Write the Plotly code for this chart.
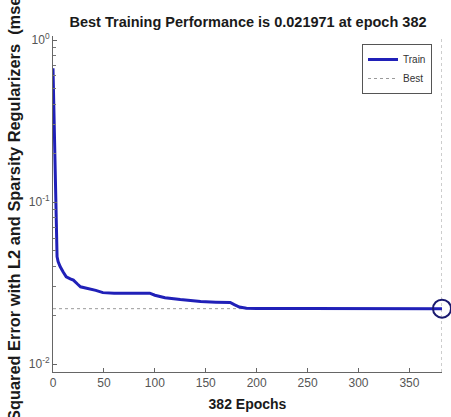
import plotly.graph_objects as go

# ---- data ----
epochs = [0, 1, 2, 3, 4, 5, 7, 10, 13, 17, 20, 24, 27, 32, 36, 42, 49, 60, 80, 95,
          100, 110, 125, 145, 160, 174, 178, 183, 190, 200, 250, 300, 350, 382]
train_perf = [0.67, 0.33, 0.13, 0.060, 0.046, 0.043, 0.040, 0.037, 0.0346, 0.0336,
              0.0330, 0.0312, 0.0300, 0.0295, 0.0292, 0.0285, 0.0276, 0.0274, 0.0274, 0.0274,
              0.0266, 0.0257, 0.0250, 0.0243, 0.0241, 0.0240, 0.0233, 0.0225, 0.0221,
              0.02200, 0.021990, 0.021980, 0.021975, 0.021971]
best_epoch = 382
best_perf = 0.021971
n_epochs = 382
ytick_vals = [0.01, 0.1, 1]
ytick_text = ["10<sup>-2</sup>", "10<sup>-1</sup>", "10<sup>0</sup>"]
xtick_vals = [0, 50, 100, 150, 200, 250, 300, 350]

title_text = f"Best Training Performance is {best_perf} at epoch {best_epoch}"
ylabel_text = "Mean Squared Error with L2 and Sparsity Regularizers  (mse)"
xlabel_text = f"{n_epochs} Epochs"

ymin_log, ymax_log = -2.049, 0.025

FONT = "Liberation Sans, Arial, sans-serif"
L, R, T, B = 53, 9, 36, 45
PW, PH = 451 - L - R, 417 - T - B

fig = go.Figure()

# best horizontal dotted line
fig.add_trace(go.Scatter(
    x=[0, best_epoch], y=[best_perf, best_perf], mode="lines",
    line=dict(color="#9a9a9a", width=1, dash="dot"), name="Best", showlegend=False))
# best vertical dotted line
fig.add_trace(go.Scatter(
    x=[best_epoch, best_epoch], y=[10 ** ymin_log, 10 ** ymax_log], mode="lines",
    line=dict(color="#9a9a9a", width=1, dash="dot"), name="Best", showlegend=False,
    cliponaxis=False))
# train curve
fig.add_trace(go.Scatter(
    x=epochs, y=train_perf, mode="lines",
    line=dict(color="#2020b8", width=3), name="Train"))
# legend proxy for Best
fig.add_trace(go.Scatter(
    x=[None], y=[None], mode="lines",
    line=dict(color="#9a9a9a", width=1, dash="dot"), name="Best"))
# best point circle
fig.add_trace(go.Scatter(
    x=[best_epoch], y=[best_perf], mode="markers",
    marker=dict(symbol="circle-open", size=18, color="#1a1a70", line=dict(width=2)),
    showlegend=False, cliponaxis=False))

fig.update_layout(
    width=451, height=417,
    margin=dict(l=L, r=R, t=T, b=B, autoexpand=False),
    paper_bgcolor="white", plot_bgcolor="white",
    font=dict(family=FONT, size=12, color="#4d4d4d"),
    title=dict(text=f"<b>{title_text}</b>", x=248 / 451, xanchor="center",
               xref="container",
               y=1 - 22 / 417, yanchor="middle", yref="container",
               font=dict(family=FONT, size=14.5, color="#1a1a1a")),
    showlegend=True,
    legend=dict(x=(432 - L) / PW, y=(372 - 44) / PH, xanchor="right", yanchor="top",
                bordercolor="#555", borderwidth=1, bgcolor="white",
                font=dict(family=FONT, size=10, color="#333"),
                itemwidth=30, tracegroupgap=0),
    xaxis=dict(range=[0, n_epochs], tickvals=xtick_vals, ticks="inside", ticklen=4,
               tickcolor="#666", showline=True, linecolor="#666", linewidth=1,
               showgrid=False, zeroline=False, automargin=False,
               tickfont=dict(family=FONT, size=12, color="#555"),
               title=dict(text=f"<b>{xlabel_text}</b>", standoff=9,
                          font=dict(family=FONT, size=14, color="#1a1a1a"))),
    yaxis=dict(type="log", range=[ymin_log, ymax_log], tickvals=ytick_vals,
               ticktext=ytick_text, ticks="inside", ticklen=4, tickcolor="#666",
               showline=True, linecolor="#666", linewidth=1, showgrid=False,
               zeroline=False, automargin=False,
               tickfont=dict(family=FONT, size=12, color="#555"),
               minor=dict(ticks="inside", ticklen=3, tickcolor="#777",
                          tickvals=[0.02, 0.03, 0.04, 0.05, 0.06, 0.07, 0.08, 0.09,
                                    0.2, 0.3, 0.4, 0.5, 0.6, 0.7, 0.8, 0.9],
                          showgrid=False)),
)

fig.add_annotation(
    text=f"<b>{ylabel_text}</b>", textangle=-90, showarrow=False,
    xref="paper", yref="paper", x=-(L - 13) / PW, y=(372 - 229.5) / PH,
    xanchor="center", yanchor="middle",
    font=dict(family=FONT, size=16.4, color="#1a1a1a"))

fig.write_html("out.html", config={"displayModeBar": False},
               post_script="document.body.style.margin='0';document.body.style.overflow='hidden';")
